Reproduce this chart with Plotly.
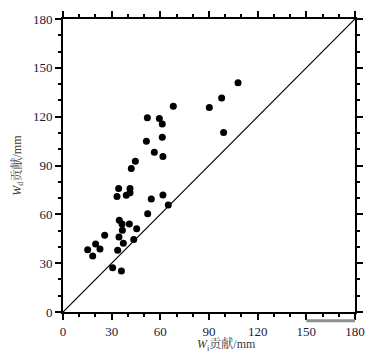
import plotly.graph_objects as go

wi = [15.2, 18.3, 20.1, 22.8, 25.7, 30.6, 33.3, 33.7, 34.3, 34.5, 34.7, 36.0, 36.4,
      36.6, 37.2, 39.0, 40.9, 41.3, 41.3, 42.1, 43.6, 44.6, 45.4, 51.4, 52.0, 52.2,
      54.4, 56.3, 59.4, 61.2, 61.2, 61.6, 61.6, 64.9, 68.0, 90.2, 97.8, 99.0, 107.9]
wd = [38.3, 34.4, 41.8, 38.7, 47.1, 27.2, 70.9, 37.9, 75.8, 46.1, 56.3, 25.2, 54.1,
      50.2, 42.2, 71.7, 54.1, 75.8, 73.3, 88.1, 44.6, 92.6, 51.2, 104.9, 119.4, 60.4,
      69.4, 98.1, 118.8, 115.5, 107.3, 95.6, 71.9, 65.7, 126.4, 125.7, 131.5, 110.2, 140.9]
line_x = [0, 180]
line_y = [0, 180]
ticks = [0, 30, 60, 90, 120, 150, 180]
x_title = "<i>W</i><sub>i</sub>贡献/mm"
y_title = "<i>W</i><sub>d</sub>贡献/mm"

fig = go.Figure()
fig.add_trace(go.Scatter(x=line_x, y=line_y, mode="lines",
                         line=dict(color="black", width=1.2), hoverinfo="skip"))
fig.add_trace(go.Scatter(x=wi, y=wd, mode="markers",
                         marker=dict(color="black", size=7)))

axis_common = dict(
    range=[0, 180], tickvals=ticks, ticks="outside", ticklen=6, tickwidth=2,
    tickcolor="black", showline=True, linewidth=2, linecolor="black",
    mirror="allticks", showgrid=False, zeroline=False, automargin=False,
    tickfont=dict(family="Liberation Serif", size=13, color="#1a1a3a"),
    minor=dict(dtick=10, ticks="outside", ticklen=3, tickwidth=1.5, tickcolor="black"),
)
fig.update_xaxes(**axis_common)
fig.update_yaxes(**axis_common)

title_font = dict(family="Liberation Serif, Noto Serif CJK SC, Noto Sans CJK SC",
                  size=12, color="#3a3a3a")
fig.add_annotation(text=x_title, xref="paper", yref="paper", x=0.56, y=-0.11,
                   xanchor="center", yanchor="middle", showarrow=False, font=title_font)
fig.add_annotation(text=y_title, xref="paper", yref="paper", x=-0.157, y=0.5,
                   xanchor="center", yanchor="middle", textangle=-90,
                   showarrow=False, font=title_font)

# grey bar under the right part of the x axis
fig.add_shape(type="line", xref="x", yref="paper", x0=150, x1=190, y0=-0.03, y1=-0.03,
              line=dict(color="#909090", width=3))

fig.update_layout(
    width=373, height=356,
    margin=dict(l=63, r=18, t=19, b=44),
    plot_bgcolor="white", paper_bgcolor="white",
    showlegend=False,
)
fig.write_html("out.html", config={"displayModeBar": False},
               post_script="document.body.style.margin='0';document.body.style.padding='0';")
